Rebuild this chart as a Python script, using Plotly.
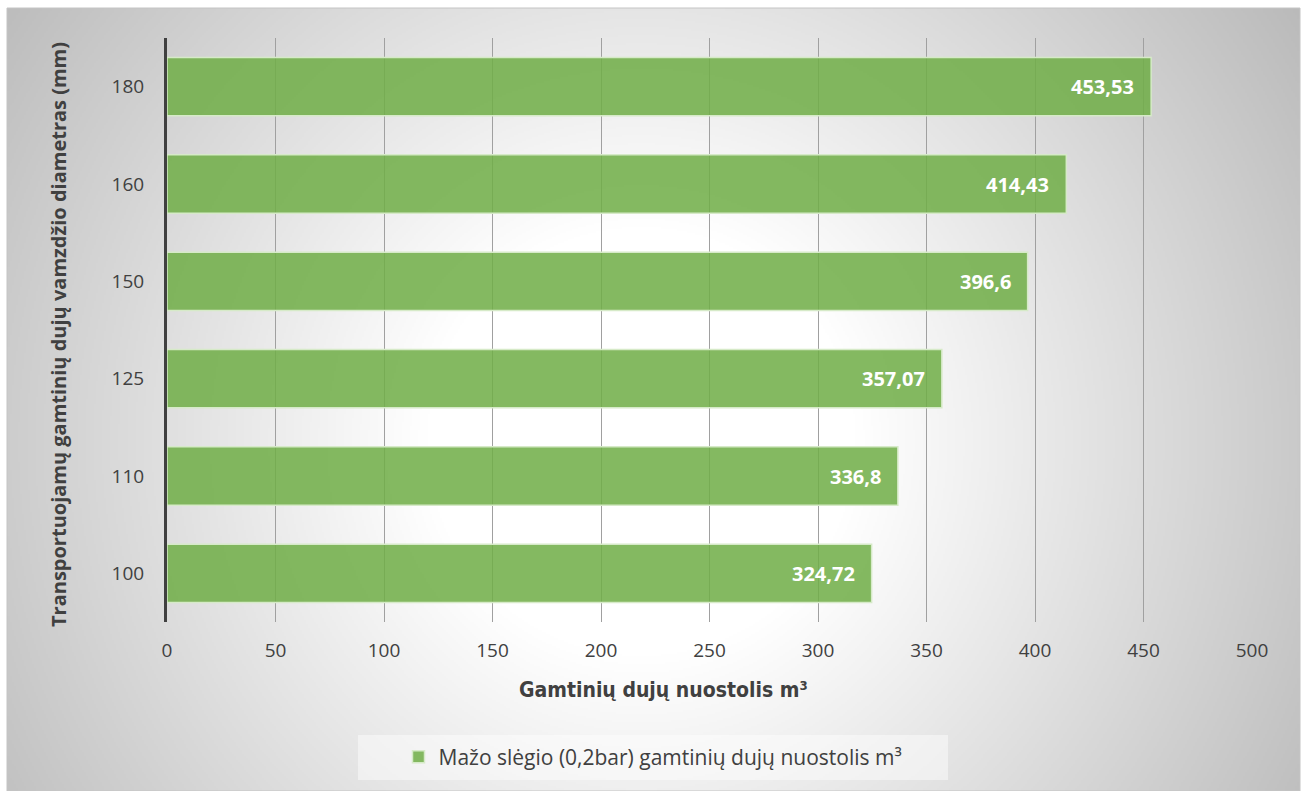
import base64
import struct
import zlib

import numpy as np
import plotly.graph_objects as go

# Pipe diameters (mm) and low-pressure natural gas losses (m³)
diameters = ["100", "110", "125", "150", "160", "180"]
losses = [324.72, 336.8, 357.07, 396.6, 414.43, 453.53]
x_ticks = [0, 50, 100, 150, 200, 250, 300, 350, 400, 450, 500]

series_name = "Mažo slėgio (0,2bar) gamtinių dujų nuostolis m³"
x_title = "Gamtinių dujų nuostolis m³"
y_title = "Transportuojamų gamtinių dujų vamzdžio diametras (mm)"

W, H = 1306, 791
L, R, T, B = 167, 54, 38, 169
PW, PH = W - L - R, H - T - B


def px_x(px):
    return (px - L) / PW


def px_y(py):
    return (H - B - py) / PH


def radial_png(w, h, scale):
    """Grey radial fill, white in the middle, darker towards the corners."""
    ys, xs = np.mgrid[0:h, 0:w].astype(float)
    xs = xs * scale + 7
    ys = ys * scale + 8
    d = np.hypot(xs - 640, ys - 440)
    g = 255 - 0.12 * np.clip(d - 215, 0, None)
    g = np.clip(g, 0, 255).astype(np.uint8)
    raw = b"".join(b"\x00" + row.tobytes() for row in g)

    def chunk(tag, data):
        c = struct.pack(">I", len(data)) + tag + data
        return c + struct.pack(">I", zlib.crc32(tag + data) & 0xFFFFFFFF)

    png = b"\x89PNG\r\n\x1a\n"
    png += chunk(b"IHDR", struct.pack(">IIBBBBB", w, h, 8, 0, 0, 0, 0))
    png += chunk(b"IDAT", zlib.compress(raw, 9))
    png += chunk(b"IEND", b"")
    return "data:image/png;base64," + base64.b64encode(png).decode()


bg_x0, bg_x1, bg_y0, bg_y1 = 7, 1300, 8, 791
scale = 2
bg_src = radial_png((bg_x1 - bg_x0) // scale, (bg_y1 - bg_y0) // scale, scale)

labels = [f"{v:g}".replace(".", ",") for v in losses]

fig = go.Figure()
fig.add_trace(
    go.Bar(
        x=losses,
        y=diameters,
        orientation="h",
        name=series_name,
        marker=dict(
            color="rgba(112,173,71,0.86)",
            line=dict(color="rgba(214,234,200,1)", width=1.5),
        ),
        showlegend=True,
    )
)

annotations = []
for idx, (v, lab) in enumerate(zip(losses, labels)):
    # category axes take the category index as position
    annotations.append(
        dict(
            x=v, y=idx, xref="x", yref="y", text=lab, showarrow=False,
            xanchor="right", yanchor="middle", xshift=-15,
            font=dict(family="Open Sans", size=20, color="white", weight="bold"),
        )
    )

annotations.append(
    dict(
        x=px_x(663), y=px_y(690), xref="paper", yref="paper", text=x_title,
        showarrow=False, xanchor="center", yanchor="middle",
        font=dict(family="Liberation Sans Narrow, DejaVu Sans Condensed, Arial Narrow",
                  size=21, color="#404040", weight="bold"),
    )
)
annotations.append(
    dict(
        x=px_x(58), y=px_y(335), xref="paper", yref="paper", text=y_title,
        showarrow=False, xanchor="center", yanchor="middle", textangle=-90,
        font=dict(family="Open Sans", size=20, color="#404040", weight="bold"),
    )
)

fig.update_layout(
    width=W,
    height=H,
    margin=dict(l=L, r=R, t=T, b=B, pad=0),
    paper_bgcolor="white",
    plot_bgcolor="rgba(0,0,0,0)",
    bargap=0.4,
    font=dict(family="Open Sans", size=18, color="#404040"),
    xaxis=dict(
        range=[0, 500],
        tickvals=x_ticks,
        showgrid=True,
        gridcolor="#a0a0a0",
        gridwidth=1.2,
        zeroline=False,
        showline=False,
        ticks="",
        ticklabelstandoff=15,
        tickfont=dict(family="Open Sans", size=19, color="#404040"),
    ),
    yaxis=dict(
        type="category",
        categoryorder="array",
        categoryarray=diameters,
        range=[-0.5, len(diameters) - 0.5],
        autorange=False,
        showgrid=False,
        showline=True,
        linecolor="#404040",
        linewidth=3,
        ticks="",
        ticklabelstandoff=16,
        tickfont=dict(family="Open Sans", size=19, color="#404040"),
    ),
    legend=dict(
        orientation="h",
        x=px_x(653),
        y=px_y(757),
        xanchor="center",
        yanchor="middle",
        bgcolor="rgba(0,0,0,0)",
        font=dict(family="Open Sans", size=21, color="#404040"),
    ),
    images=[
        dict(
            source=bg_src,
            xref="paper", yref="paper",
            x=px_x(bg_x0), y=px_y(bg_y0),
            sizex=px_x(bg_x1) - px_x(bg_x0),
            sizey=px_y(bg_y0) - px_y(bg_y1),
            xanchor="left", yanchor="top",
            sizing="stretch", layer="below",
        )
    ],
    shapes=[
        dict(
            type="rect", xref="paper", yref="paper",
            x0=px_x(bg_x0), x1=px_x(bg_x1), y0=px_y(bg_y1), y1=px_y(bg_y0),
            line=dict(color="#c4c4c4", width=1), fillcolor="rgba(0,0,0,0)",
            layer="below",
        ),
        dict(
            type="rect", xref="paper", yref="paper",
            x0=px_x(358), x1=px_x(948), y0=px_y(780), y1=px_y(735),
            line=dict(width=0), fillcolor="rgba(255,255,255,0.45)",
            layer="below",
        ),
    ],
    annotations=annotations,
)

fig.write_html("out.html")
